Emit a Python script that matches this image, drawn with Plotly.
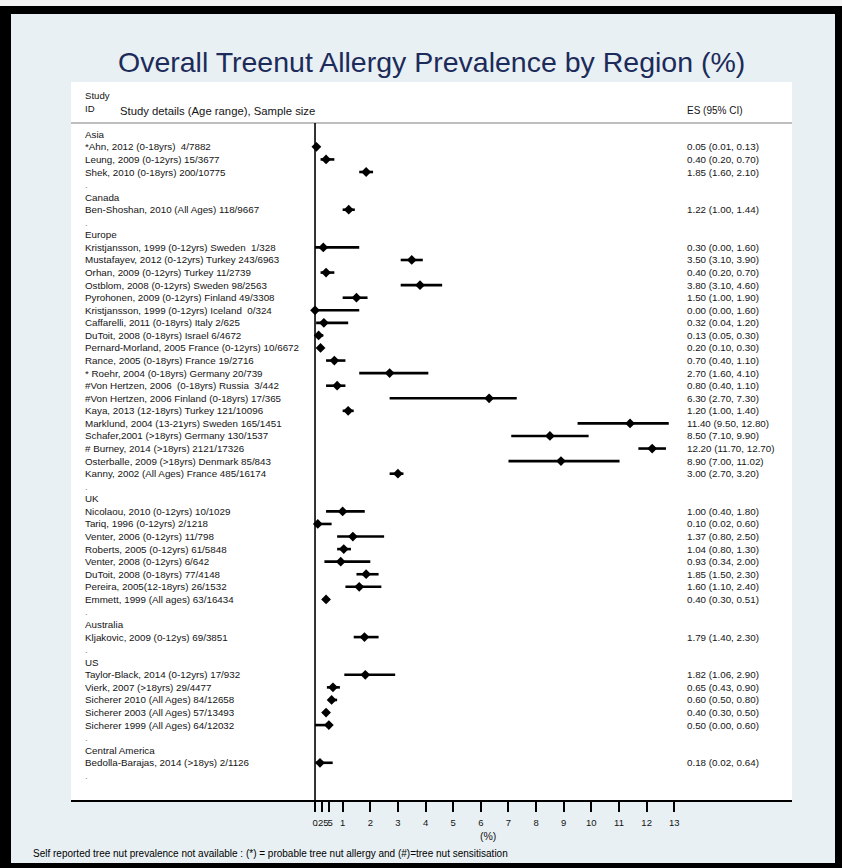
import plotly.graph_objects as go

# ---- data -------------------------------------------------------------
regions = ["Asia", "Canada", "Europe", "UK", "Australia", "US", "Central America"]

study_region = (
    ["Asia"] * 3 + ["Canada"] * 1 + ["Europe"] * 19 + ["UK"] * 8
    + ["Australia"] * 1 + ["US"] * 5 + ["Central America"] * 1
)

study_labels = [
    "*Ahn, 2012 (0-18yrs)  4/7882",
    "Leung, 2009 (0-12yrs) 15/3677",
    "Shek, 2010 (0-18yrs) 200/10775",
    "Ben-Shoshan, 2010 (All Ages) 118/9667",
    "Kristjansson, 1999 (0-12yrs) Sweden  1/328",
    "Mustafayev, 2012 (0-12yrs) Turkey 243/6963",
    "Orhan, 2009 (0-12yrs) Turkey 11/2739",
    "Ostblom, 2008 (0-12yrs) Sweden 98/2563",
    "Pyrohonen, 2009 (0-12yrs) Finland 49/3308",
    "Kristjansson, 1999 (0-12yrs) Iceland  0/324",
    "Caffarelli, 2011 (0-18yrs) Italy 2/625",
    "DuToit, 2008 (0-18yrs) Israel 6/4672",
    "Pernard-Morland, 2005 France (0-12yrs) 10/6672",
    "Rance, 2005 (0-18yrs) France 19/2716",
    "* Roehr, 2004 (0-18yrs) Germany 20/739",
    "#Von Hertzen, 2006  (0-18yrs) Russia  3/442",
    "#Von Hertzen, 2006 Finland (0-18yrs) 17/365",
    "Kaya, 2013 (12-18yrs) Turkey 121/10096",
    "Marklund, 2004 (13-21yrs) Sweden 165/1451",
    "Schafer,2001 (>18yrs) Germany 130/1537",
    "# Burney, 2014 (>18yrs) 2121/17326",
    "Osterballe, 2009 (>18yrs) Denmark 85/843",
    "Kanny, 2002 (All Ages) France 485/16174",
    "Nicolaou, 2010 (0-12yrs) 10/1029",
    "Tariq, 1996 (0-12yrs) 2/1218",
    "Venter, 2006 (0-12yrs) 11/798",
    "Roberts, 2005 (0-12yrs) 61/5848",
    "Venter, 2008 (0-12yrs) 6/642",
    "DuToit, 2008 (0-18yrs) 77/4148",
    "Pereira, 2005(12-18yrs) 26/1532",
    "Emmett, 1999 (All ages) 63/16434",
    "Kljakovic, 2009 (0-12ys) 69/3851",
    "Taylor-Black, 2014 (0-12yrs) 17/932",
    "Vierk, 2007 (>18yrs) 29/4477",
    "Sicherer 2010 (All Ages) 84/12658",
    "Sicherer 2003 (All Ages) 57/13493",
    "Sicherer 1999 (All Ages) 64/12032",
    "Bedolla-Barajas, 2014 (>18ys) 2/1126",
]

es = [
    0.05, 0.40, 1.85,
    1.22,
    0.30, 3.50, 0.40, 3.80, 1.50, 0.00, 0.32, 0.13, 0.20, 0.70,
    2.70, 0.80, 6.30, 1.20, 11.40, 8.50, 12.20, 8.90, 3.00,
    1.00, 0.10, 1.37, 1.04, 0.93, 1.85, 1.60, 0.40,
    1.79,
    1.82, 0.65, 0.60, 0.40, 0.50,
    0.18,
]

ci_low = [
    0.01, 0.20, 1.60,
    1.00,
    0.00, 3.10, 0.20, 3.10, 1.00, 0.00, 0.04, 0.05, 0.10, 0.40,
    1.60, 0.40, 2.70, 1.00, 9.50, 7.10, 11.70, 7.00, 2.70,
    0.40, 0.02, 0.80, 0.80, 0.34, 1.50, 1.10, 0.30,
    1.40,
    1.06, 0.43, 0.50, 0.30, 0.00,
    0.02,
]

ci_high = [
    0.13, 0.70, 2.10,
    1.44,
    1.60, 3.90, 0.70, 4.60, 1.90, 1.60, 1.20, 0.30, 0.30, 1.10,
    4.10, 1.10, 7.30, 1.40, 12.80, 9.90, 12.70, 11.02, 3.20,
    1.80, 0.60, 2.50, 1.30, 2.00, 2.30, 2.40, 0.51,
    2.30,
    2.90, 0.90, 0.80, 0.50, 0.60,
    0.64,
]

tick_vals = [0, 0.25, 0.5, 1, 2, 3, 4, 5, 6, 7, 8, 9, 10, 11, 12, 13]
tick_text = ["0", ".25", ".5", "1", "2", "3", "4", "5", "6", "7", "8", "9",
             "10", "11", "12", "13"]

title_text = "Overall Treenut Allergy Prevalence by Region (%)"
footnote = ("Self reported tree nut prevalence not available : (*) = probable "
            "tree nut allergy and (#)=tree nut sensitisation")

# ---- page geometry (pixels) -------------------------------------------
W, H = 842, 868
PX_L, PX_R = 71, 792      # white panel horizontal extent
PY_T, PY_B = 82, 800      # white panel vertical extent
X_MIN, X_MAX = -8.83, 17.26
Y_TOP, Y_BOT = -3.16, 53.96

def px(x):
    return x / W

def py(y):
    return 1 - y / H

FONT = "Liberation Sans, Arial, sans-serif"
TXT = "#141414"

# ---- build rows: region header, its studies, then a spacer ------------
rows = []          # (kind, text, study index)
for reg in regions:
    rows.append(("region", reg, None))
    for i, r in enumerate(study_region):
        if r == reg:
            rows.append(("study", study_labels[i], i))
    rows.append(("spacer", ".", None))

study_y = [None] * len(study_labels)
annotations = []
for pos, (kind, text, idx) in enumerate(rows, start=1):
    annotations.append(dict(
        x=px(84), xref="paper", y=pos, yref="y", text=text,
        xanchor="left", yanchor="middle", showarrow=False, borderpad=0,
        font=dict(family=FONT, size=9.8, color="#888888" if kind == "spacer" else TXT),
    ))
    if kind == "study":
        study_y[idx] = pos
        annotations.append(dict(
            x=px(686), xref="paper", y=pos, yref="y",
            text=f"{es[idx]:.2f} ({ci_low[idx]:.2f}, {ci_high[idx]:.2f})",
            xanchor="left", yanchor="middle", showarrow=False, borderpad=0,
            font=dict(family=FONT, size=9.8, color=TXT),
        ))

# column headers
annotations += [
    dict(x=px(84), xref="paper", y=-2.07, yref="y", text="Study",
         xanchor="left", yanchor="middle", showarrow=False, borderpad=0,
         font=dict(family=FONT, size=9.6, color=TXT)),
    dict(x=px(84), xref="paper", y=-1.02, yref="y", text="ID",
         xanchor="left", yanchor="middle", showarrow=False, borderpad=0,
         font=dict(family=FONT, size=9.6, color=TXT)),
    dict(x=px(119), xref="paper", y=-0.82, yref="y",
         text="Study details (Age range), Sample size",
         xanchor="left", yanchor="middle", showarrow=False, borderpad=0,
         font=dict(family=FONT, size=11.3, color=TXT)),
    dict(x=px(686), xref="paper", y=-0.86, yref="y", text="ES (95% CI)",
         xanchor="left", yanchor="middle", showarrow=False, borderpad=0,
         font=dict(family=FONT, size=10, color=TXT)),
    # title, axis caption and footnote
    dict(x=px(431.5), xref="paper", y=py(62), yref="paper", text=title_text,
         xanchor="center", yanchor="middle", showarrow=False,
         font=dict(family=FONT, size=28.5, color="#1c2b5a")),
    dict(x=px(488), xref="paper", y=py(836), yref="paper", text="(%)",
         xanchor="center", yanchor="middle", showarrow=False,
         font=dict(family=FONT, size=10.5, color=TXT)),
    dict(x=px(32), xref="paper", y=py(853), yref="paper", text=footnote,
         xanchor="left", yanchor="middle", showarrow=False, borderpad=0,
         font=dict(family=FONT, size=10, color="#000000")),
]

# ---- frame and reference lines ----------------------------------------
BLACK = "#000000"
shapes = [
    dict(type="rect", xref="paper", yref="paper", x0=0, x1=1, y0=py(6), y1=1,
         fillcolor="#f4f4f4", line_width=0),
    dict(type="rect", xref="paper", yref="paper", x0=0, x1=px(11), y0=0, y1=py(6),
         fillcolor=BLACK, line_width=0),
    dict(type="rect", xref="paper", yref="paper", x0=px(835), x1=1, y0=0, y1=py(6),
         fillcolor=BLACK, line_width=0),
    dict(type="rect", xref="paper", yref="paper", x0=0, x1=1, y0=py(14), y1=py(6),
         fillcolor=BLACK, line_width=0),
    dict(type="rect", xref="paper", yref="paper", x0=0, x1=1, y0=0, y1=py(863),
         fillcolor=BLACK, line_width=0),
    # header separator
    dict(type="line", xref="paper", yref="y", x0=px(PX_L), x1=px(PX_R), y0=0.1, y1=0.1,
         line=dict(color="#a8a8a8", width=1.5)),
    # null line at 0
    dict(type="line", xref="x", yref="y", x0=0, x1=0, y0=0.1, y1=Y_BOT,
         line=dict(color=BLACK, width=1.6)),
]

# ---- figure -----------------------------------------------------------
fig = go.Figure()
fig.add_trace(go.Scatter(
    x=es, y=study_y, mode="markers",
    marker=dict(symbol="diamond", size=7.5, color=BLACK, line=dict(width=0)),
    error_x=dict(type="data", symmetric=False,
                 array=[h - e for h, e in zip(ci_high, es)],
                 arrayminus=[e - l for e, l in zip(es, ci_low)],
                 thickness=2.6, width=0, color=BLACK),
    hoverinfo="skip", showlegend=False,
))

fig.update_layout(
    width=W, height=H, autosize=False,
    margin=dict(l=0, r=0, t=0, b=0, pad=0),
    paper_bgcolor="#e8f0f3", plot_bgcolor="#ffffff",
    font=dict(family=FONT, color=TXT),
    showlegend=False,
    xaxis=dict(
        domain=[px(PX_L), px(PX_R)], range=[X_MIN, X_MAX],
        showgrid=False, zeroline=False,
        showline=True, linecolor=BLACK, linewidth=2,
        ticks="outside", ticklen=10, tickwidth=1.5, tickcolor=BLACK,
        tickmode="array", tickvals=tick_vals, ticktext=tick_text,
        tickangle=0, ticklabeloverflow="allow", ticklabelstandoff=3,
        tickfont=dict(family=FONT, size=9.5, color=TXT),
        fixedrange=True,
    ),
    yaxis=dict(
        domain=[py(PY_B), py(PY_T)], range=[Y_BOT, Y_TOP],
        visible=False, showgrid=False, zeroline=False, fixedrange=True,
    ),
    shapes=shapes,
    annotations=annotations,
)

fig.write_html("out.html", config={"displayModeBar": False})
